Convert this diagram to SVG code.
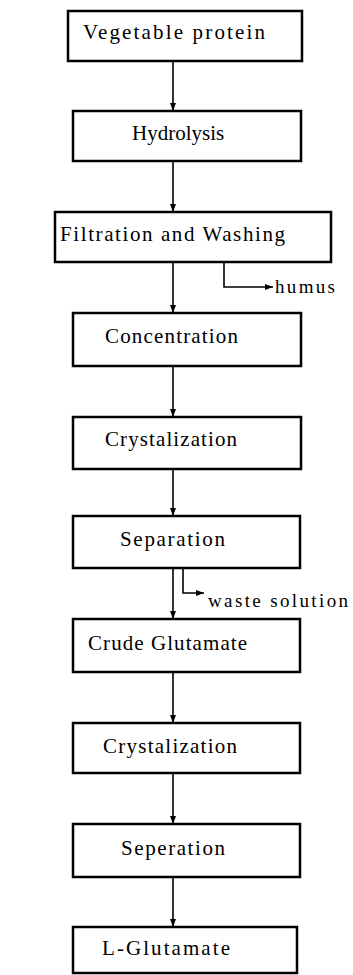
<svg xmlns="http://www.w3.org/2000/svg" width="353" height="975" viewBox="0 0 353 975">
<style>
.box{fill:#fff;stroke:#000;stroke-width:2.5}
.t{font-family:"Liberation Serif","Times New Roman",serif;font-size:21px;fill:#000}
.s{font-family:"Liberation Serif","Times New Roman",serif;font-size:19px;fill:#000}
.c{fill:none;stroke:#000;stroke-width:1.6}
</style>
<defs>
<marker id="ah" viewBox="0 0 8 6" refX="8" refY="3" markerWidth="8" markerHeight="6" markerUnits="userSpaceOnUse" orient="auto">
<path d="M0,0 L8,3 L0,6 Z" fill="#000"/>
</marker>
</defs>
<rect width="353" height="975" fill="#fff"/>
<g id="connectors">
<path class="c" d="M173 61 V111" marker-end="url(#ah)"/>
<path class="c" d="M173 161 V212" marker-end="url(#ah)"/>
<path class="c" d="M173 262 V313" marker-end="url(#ah)"/>
<path class="c" d="M173 366 V417" marker-end="url(#ah)"/>
<path class="c" d="M173 469 V516" marker-end="url(#ah)"/>
<path class="c" d="M173 568 V619" marker-end="url(#ah)"/>
<path class="c" d="M173 672 V723" marker-end="url(#ah)"/>
<path class="c" d="M173 773 V824" marker-end="url(#ah)"/>
<path class="c" d="M173 877 V927" marker-end="url(#ah)"/>
<path class="c" d="M224 262 V287 H273" marker-end="url(#ah)"/>
<text class="s" x="275" y="293" textLength="60" lengthAdjust="spacing">humus</text>
<path class="c" d="M183 568 V593 H204" marker-end="url(#ah)"/>
<text class="s" x="208" y="607" textLength="140" lengthAdjust="spacing">waste solution</text>
</g>
<g id="n1"><rect class="box" x="68" y="11" width="234" height="50"/><text class="t" x="83" y="39" textLength="182" lengthAdjust="spacing">Vegetable protein</text></g>
<g id="n2"><rect class="box" x="73" y="111" width="228" height="50"/><text class="t" x="132" y="140">Hydrolysis</text></g>
<g id="n3"><rect class="box" x="55" y="212" width="276" height="50"/><text class="t" x="60" y="241" textLength="225" lengthAdjust="spacing">Filtration and Washing</text></g>
<g id="n4"><rect class="box" x="73" y="313" width="228" height="53"/><text class="t" x="105" y="343" textLength="133" lengthAdjust="spacing">Concentration</text></g>
<g id="n5"><rect class="box" x="73" y="417" width="228" height="52"/><text class="t" x="105" y="446" textLength="132" lengthAdjust="spacing">Crystalization</text></g>
<g id="n6"><rect class="box" x="73" y="516" width="227" height="52"/><text class="t" x="120" y="546" textLength="105" lengthAdjust="spacing">Separation</text></g>
<g id="n7"><rect class="box" x="73" y="619" width="227" height="53"/><text class="t" x="88" y="650" textLength="159" lengthAdjust="spacing">Crude Glutamate</text></g>
<g id="n8"><rect class="box" x="73" y="723" width="227" height="50"/><text class="t" x="103" y="753" textLength="134" lengthAdjust="spacing">Crystalization</text></g>
<g id="n9"><rect class="box" x="73" y="824" width="227" height="53"/><text class="t" x="121" y="855" textLength="104" lengthAdjust="spacing">Seperation</text></g>
<g id="n10"><rect class="box" x="73" y="927" width="224" height="46"/><text class="t" x="102" y="955" textLength="128" lengthAdjust="spacing">L-Glutamate</text></g>
</svg>
